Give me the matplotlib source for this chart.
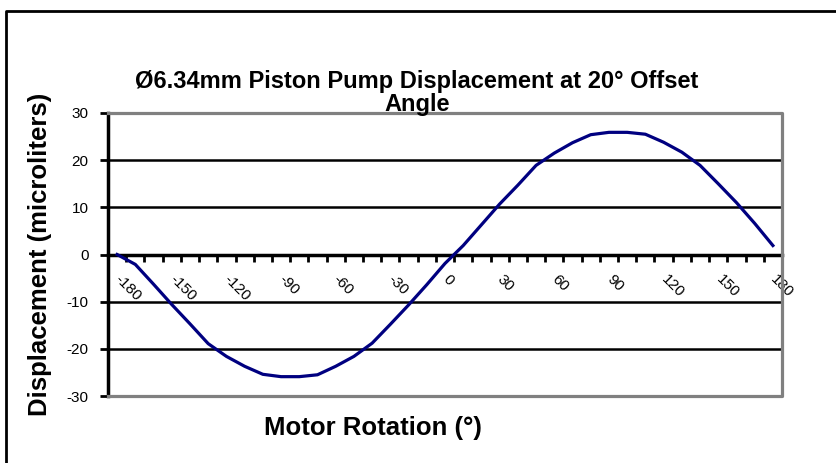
import matplotlib
matplotlib.use("Agg")
import matplotlib.pyplot as plt
from matplotlib.lines import Line2D
import numpy as np

angles = list(range(-180, 181, 10))
displacement = [0.0, -2.1, -6.3, -10.6, -14.7, -18.9, -21.6, -23.7, -25.4, -25.9,
                -25.9, -25.5, -23.7, -21.6, -18.8, -14.8, -10.7, -6.4, -1.9,
                1.9, 6.3, 10.7, 14.7, 18.9, 21.5, 23.7, 25.4, 25.9, 25.9,
                25.5, 23.8, 21.7, 18.9, 15.0, 11.0, 6.6, 1.9]
label_angles = list(range(-180, 181, 30))
y_ticks = [-30, -20, -10, 0, 10, 20, 30]

title = "Ø6.34mm Piston Pump Displacement at 20° Offset\nAngle"
xlabel = "Motor Rotation (°)"
ylabel = "Displacement (microliters)"

plt.rcParams['font.family'] = ['Liberation Sans', 'DejaVu Sans']

W, H = 837, 463
fig = plt.figure(figsize=(W / 100, H / 100), dpi=100)
L, R, T, B = 108, 782, 113, 396
ax = fig.add_axes([L / W, 1 - B / H, (R - L) / W, (B - T) / H])

idx = np.arange(len(angles))
ax.plot(idx, displacement, color='#000080', lw=2.3, zorder=4, solid_joinstyle='round')

ax.set_xlim(-0.5, len(angles) - 0.5)
ax.set_ylim(-30, 30)

# y axis
ax.set_yticks(y_ticks)
ax.set_yticklabels([str(v) for v in y_ticks], fontsize=11)
ax.tick_params(axis='y', direction='out', length=6, width=2, color='black', pad=8)
ax.yaxis.grid(True, color='black', lw=1.8, zorder=1)

# x axis at zero
ax.spines['bottom'].set_position(('data', 0))
ax.spines['bottom'].set_linewidth(2.5)
ax.spines['bottom'].set_color('black')
ax.spines['left'].set_linewidth(2.5)
ax.spines['left'].set_color('black')
ax.spines['top'].set_visible(False)
ax.spines['right'].set_visible(False)
for s in ax.spines.values():
    s.set_zorder(3)

ax.set_xticks(np.arange(-0.5, len(angles), 1.0))
ax.set_xticklabels([])
ax.tick_params(axis='x', which='major', direction='out', length=5, width=2, color='black')
lab_pos = [angles.index(a) for a in label_angles]
ax.set_xticks(lab_pos, minor=True)
ax.set_xticklabels([str(a) for a in label_angles], minor=True, fontsize=11,
                   rotation=-45, rotation_mode='anchor', ha='left', va='center')
ax.tick_params(axis='x', which='minor', length=0, pad=16)

# gray frame of plot area (top, right, bottom)
ax.plot([0, 1, 1, 0], [1, 1, 0, 0], transform=ax.transAxes, color='#808080',
        lw=2.3, clip_on=False, zorder=5, solid_capstyle='projecting')

# titles
fig.text(417 / W, 1 - 93 / H, title, ha='center', va='center', fontsize=17,
         fontweight='bold', linespacing=0.95, multialignment='center')
fig.text(373 / W, 1 - 428 / H, xlabel, ha='center', va='center', fontsize=18.5,
         fontweight='bold')
fig.text(40 / W, 1 - 254 / H, ylabel, ha='center', va='center', fontsize=18.5,
         fontweight='bold', rotation=90)

# chart border (left & top visible)
fig.add_artist(Line2D([6 / W, 6 / W, 1.0], [0.0, 1 - 11 / H, 1 - 11 / H],
                      transform=fig.transFigure, color='black', lw=2))

fig.savefig('out.png', dpi=100, facecolor='white')
